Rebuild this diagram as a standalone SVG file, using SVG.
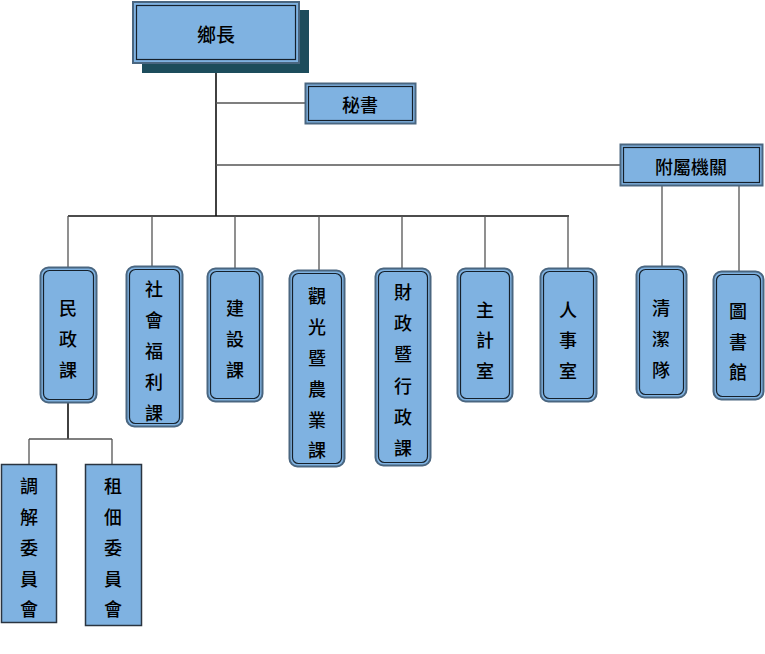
<svg xmlns="http://www.w3.org/2000/svg" width="765" height="654" viewBox="0 0 765 654">
<style>
.o{fill:#7fb2e1;stroke:#4a6680;stroke-width:2}
.i{fill:none;stroke:#15202b;stroke-width:1.2}
.s{fill:#7fb2e1;stroke:#2a3440;stroke-width:1.5}
.t{font-family:"Noto Sans CJK TC","Noto Sans CJK SC",sans-serif;font-size:18px;fill:#000;text-anchor:middle;dominant-baseline:central;font-weight:500}
.c{fill:none;stroke:#555;stroke-width:1.3}
.k{fill:none;stroke:#111;stroke-width:1.6}
</style>
<rect width="765" height="654" fill="#fff"/>
<g id="connectors">
<path class="k" d="M216 63V216"/>
<path class="c" d="M216 103H305M216 165H620"/>
<path class="k" d="M68 216H569"/>
<path class="c" d="M68 216V267M152 216V266M235 216V268M319 216V270M402 216V268M485 216V268M568 216V268"/>
<path class="c" d="M662 186V266M739 186V271"/>
<path class="k" d="M68 402V439"/>
<path class="c" d="M29 439H112M29 439V464M112 439V464"/>
</g>
<g id="n-head">
<rect x="142" y="10" width="167" height="63" fill="#1d4d5c"/>
<rect class="o" x="133" y="2" width="166" height="61"/>
<rect class="i" x="136.5" y="5.5" width="159" height="54"/>
<text class="t" x="216" y="33" style="font-size:19px">鄉長</text>
</g>
<g id="n-secretary">
<rect class="o" x="305.5" y="83.5" width="110" height="40"/>
<rect class="i" x="308.5" y="86.5" width="104" height="34"/>
<text class="t" x="360" y="104">秘書</text>
</g>
<g id="n-affiliated">
<rect class="o" x="620.5" y="144.5" width="142" height="41"/>
<rect class="i" x="623.5" y="147.5" width="136" height="35"/>
<text class="t" x="691" y="166">附屬機關</text>
</g>
<g id="n-civil">
<rect class="o" x="40.5" y="267.5" width="56" height="135" rx="8"/>
<rect class="i" x="43.5" y="270.5" width="50" height="129" rx="6"/>
<text class="t"><tspan x="68" y="307">民</tspan><tspan x="68" y="338">政</tspan><tspan x="68" y="369">課</tspan></text>
</g>
<g id="n-welfare">
<rect class="o" x="126.5" y="266.5" width="56" height="160" rx="8"/>
<rect class="i" x="129.5" y="269.5" width="50" height="154" rx="6"/>
<text class="t"><tspan x="154" y="288">社</tspan><tspan x="154" y="319">會</tspan><tspan x="154" y="350">福</tspan><tspan x="154" y="381">利</tspan><tspan x="154" y="412">課</tspan></text>
</g>
<g id="n-construction">
<rect class="o" x="207.5" y="268.5" width="55" height="133" rx="8"/>
<rect class="i" x="210.5" y="271.5" width="49" height="127" rx="6"/>
<text class="t"><tspan x="235" y="307">建</tspan><tspan x="235" y="338">設</tspan><tspan x="235" y="369">課</tspan></text>
</g>
<g id="n-tourism">
<rect class="o" x="289.5" y="270.5" width="55" height="196" rx="8"/>
<rect class="i" x="292.5" y="273.5" width="49" height="190" rx="6"/>
<text class="t"><tspan x="317" y="295">觀</tspan><tspan x="317" y="326">光</tspan><tspan x="317" y="357">暨</tspan><tspan x="317" y="388">農</tspan><tspan x="317" y="419">業</tspan><tspan x="317" y="449">課</tspan></text>
</g>
<g id="n-finance">
<rect class="o" x="375.5" y="268.5" width="55" height="197" rx="8"/>
<rect class="i" x="378.5" y="271.5" width="49" height="191" rx="6"/>
<text class="t"><tspan x="403" y="291">財</tspan><tspan x="403" y="322">政</tspan><tspan x="403" y="353">暨</tspan><tspan x="403" y="385">行</tspan><tspan x="403" y="416">政</tspan><tspan x="403" y="447">課</tspan></text>
</g>
<g id="n-accounting">
<rect class="o" x="457.5" y="268.5" width="55" height="133" rx="8"/>
<rect class="i" x="460.5" y="271.5" width="49" height="127" rx="6"/>
<text class="t"><tspan x="485" y="309">主</tspan><tspan x="485" y="339">計</tspan><tspan x="485" y="370">室</tspan></text>
</g>
<g id="n-personnel">
<rect class="o" x="540.5" y="268.5" width="56" height="133" rx="8"/>
<rect class="i" x="543.5" y="271.5" width="50" height="127" rx="6"/>
<text class="t"><tspan x="568" y="309">人</tspan><tspan x="568" y="339">事</tspan><tspan x="568" y="370">室</tspan></text>
</g>
<g id="n-cleaning">
<rect class="o" x="636.5" y="266.5" width="50" height="131" rx="8"/>
<rect class="i" x="639.5" y="269.5" width="44" height="125" rx="6"/>
<text class="t"><tspan x="661" y="307">清</tspan><tspan x="661" y="338">潔</tspan><tspan x="661" y="369">隊</tspan></text>
</g>
<g id="n-library">
<rect class="o" x="713.5" y="271.5" width="50" height="128" rx="8"/>
<rect class="i" x="716.5" y="274.5" width="44" height="122" rx="6"/>
<text class="t"><tspan x="738" y="310">圖</tspan><tspan x="738" y="341">書</tspan><tspan x="738" y="371">館</tspan></text>
</g>
<g id="n-mediation">
<rect class="s" x="1.5" y="464.5" width="55" height="158"/>
<text class="t"><tspan x="29" y="485">調</tspan><tspan x="29" y="516">解</tspan><tspan x="29" y="547">委</tspan><tspan x="29" y="578">員</tspan><tspan x="29" y="608">會</tspan></text>
</g>
<g id="n-tenancy">
<rect class="s" x="85.5" y="464.5" width="56" height="161"/>
<text class="t"><tspan x="113" y="485">租</tspan><tspan x="113" y="516">佃</tspan><tspan x="113" y="547">委</tspan><tspan x="113" y="578">員</tspan><tspan x="113" y="608">會</tspan></text>
</g>
</svg>
